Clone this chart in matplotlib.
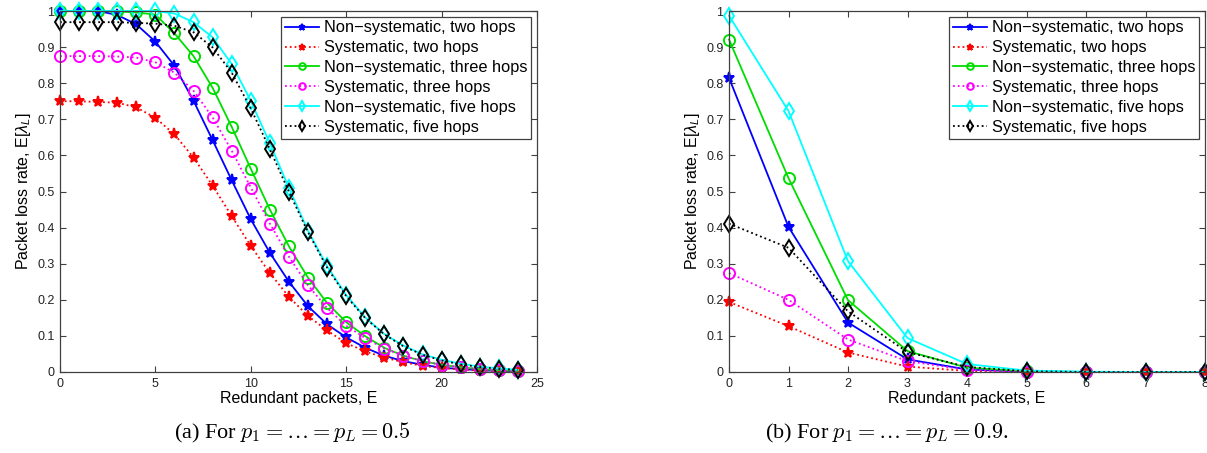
import numpy as np
import matplotlib
matplotlib.use('Agg')
import matplotlib.pyplot as plt
from matplotlib.ticker import FormatStrFormatter

plt.rcParams['font.family'] = ['Liberation Sans', 'DejaVu Sans']
plt.rcParams['mathtext.fontset'] = 'custom'
plt.rcParams['mathtext.rm'] = 'Liberation Sans'
plt.rcParams['mathtext.it'] = 'Liberation Sans:italic'

# ---- data, panel (a): p = 0.5 ----
E_a = list(range(25))
nonsys2_a = [1.0, 1.0, 1.0, 0.989, 0.963, 0.915, 0.848, 0.751, 0.642, 0.531, 0.423, 0.330, 0.250,
             0.182, 0.132, 0.096, 0.067, 0.045, 0.030, 0.020, 0.012, 0.008, 0.005, 0.003, 0.002]
sys2_a = [0.750, 0.750, 0.748, 0.746, 0.733, 0.704, 0.658, 0.594, 0.516, 0.432, 0.349, 0.274, 0.208,
          0.155, 0.115, 0.080, 0.057, 0.040, 0.027, 0.017, 0.011, 0.007, 0.004, 0.003, 0.002]
nonsys3_a = [1.0, 1.0, 1.0, 0.999, 0.996, 0.990, 0.938, 0.875, 0.787, 0.679, 0.563, 0.450, 0.348,
             0.261, 0.191, 0.138, 0.099, 0.067, 0.045, 0.030, 0.020, 0.013, 0.008, 0.005, 0.003]
sys3_a = [0.875, 0.875, 0.875, 0.874, 0.871, 0.858, 0.829, 0.779, 0.705, 0.613, 0.511, 0.411, 0.319,
          0.240, 0.177, 0.128, 0.094, 0.065, 0.045, 0.030, 0.020, 0.013, 0.008, 0.005, 0.003]
nonsys5_a = [1.0, 1.0, 1.0, 1.0, 1.0, 1.0, 0.993, 0.969, 0.927, 0.853, 0.751, 0.633, 0.510,
             0.391, 0.293, 0.213, 0.151, 0.105, 0.073, 0.049, 0.034, 0.023, 0.015, 0.010, 0.006]
sys5_a = [0.969, 0.969, 0.969, 0.969, 0.967, 0.965, 0.959, 0.941, 0.899, 0.829, 0.730, 0.617, 0.499,
          0.387, 0.289, 0.210, 0.149, 0.104, 0.071, 0.048, 0.032, 0.021, 0.014, 0.009, 0.006]

# ---- data, panel (b): p = 0.9 ----
E_b = list(range(9))
nonsys2_b = [0.815, 0.402, 0.137, 0.035, 0.007, 0.001, 0.0, 0.0, 0.0]
sys2_b = [0.194, 0.127, 0.054, 0.015, 0.003, 0.0, 0.0, 0.0, 0.0]
nonsys3_b = [0.921, 0.537, 0.199, 0.058, 0.012, 0.002, 0.0, 0.0, 0.0]
sys3_b = [0.274, 0.200, 0.090, 0.030, 0.006, 0.001, 0.0, 0.0, 0.0]
nonsys5_b = [0.987, 0.723, 0.307, 0.094, 0.022, 0.004, 0.001, 0.0, 0.0]
sys5_b = [0.411, 0.344, 0.168, 0.055, 0.014, 0.002, 0.0, 0.0, 0.0]

labels = ['Non\u2212systematic, two hops', 'Systematic, two hops',
          'Non\u2212systematic, three hops', 'Systematic, three hops',
          'Non\u2212systematic, five hops', 'Systematic, five hops']
styles = [('#0000ff', '-', '*'), ('#ff0000', ':', '*'),
          ('#00dd00', '-', 'o'), ('#ff00ff', ':', 'o'),
          ('#00ffff', '-', 'd'), ('#000000', ':', 'd')]

axis_col = '#404040'


def draw(ax, x, series, xmax, xticks):
    for y, lab, (c, ls, m) in zip(series, labels, styles):
        filled = m == '*'
        ax.plot(x, y, color=c, linestyle=ls, marker=m, label=lab,
                linewidth=1.3, markersize=8,
                markerfacecolor=c if filled else 'none',
                markeredgecolor=c, markeredgewidth=1.4, clip_on=False)
    ax.set_xlim(0, xmax)
    ax.set_ylim(0, 1)
    ax.set_xticks(xticks)
    ax.set_yticks(np.arange(0, 1.01, 0.1))
    ax.yaxis.set_major_formatter(FormatStrFormatter('%g'))
    ax.tick_params(direction='in', top=True, right=True, length=4,
                   labelsize=9, colors=axis_col, labelcolor='#222222', pad=4)
    for s in ax.spines.values():
        s.set_color(axis_col)
        s.set_linewidth(0.9)
    ax.set_xlabel('Redundant packets, E', fontsize=11.5, labelpad=1)
    ax.set_ylabel(r'Packet loss rate, E[$\lambda_L$]', fontsize=11.5, labelpad=3)
    leg = ax.legend(loc='upper right', fontsize=11.8, fancybox=False, framealpha=1,
                    edgecolor=axis_col, handlelength=2.1, labelspacing=0.3,
                    borderpad=0.22, borderaxespad=0.35, handletextpad=0.3,
                    markerscale=0.6)
    leg.get_frame().set_linewidth(0.9)


fig = plt.figure(figsize=(12.07, 4.53), dpi=100)
ax1 = fig.add_axes([60 / 1207, 81 / 453, 477 / 1207, 361 / 453])
ax2 = fig.add_axes([729 / 1207, 81 / 453, 476 / 1207, 361 / 453])

draw(ax1, E_a, [nonsys2_a, sys2_a, nonsys3_a, sys3_a, nonsys5_a, sys5_a], 25, range(0, 26, 5))
draw(ax2, E_b, [nonsys2_b, sys2_b, nonsys3_b, sys3_b, nonsys5_b, sys5_b], 8, range(0, 9))

cap = dict(fontsize=16, ha='center', va='center', math_fontfamily='cm',
           family=['Liberation Serif', 'DejaVu Serif'])
fig.text(292 / 1207, 1 - 433 / 453, r'(a) For $p_1 = \ldots = p_L = 0.5$', **cap)
fig.text(887 / 1207, 1 - 433 / 453, r'(b) For $p_1 = \ldots = p_L = 0.9$.', **cap)

fig.savefig('out.png', dpi=100)
